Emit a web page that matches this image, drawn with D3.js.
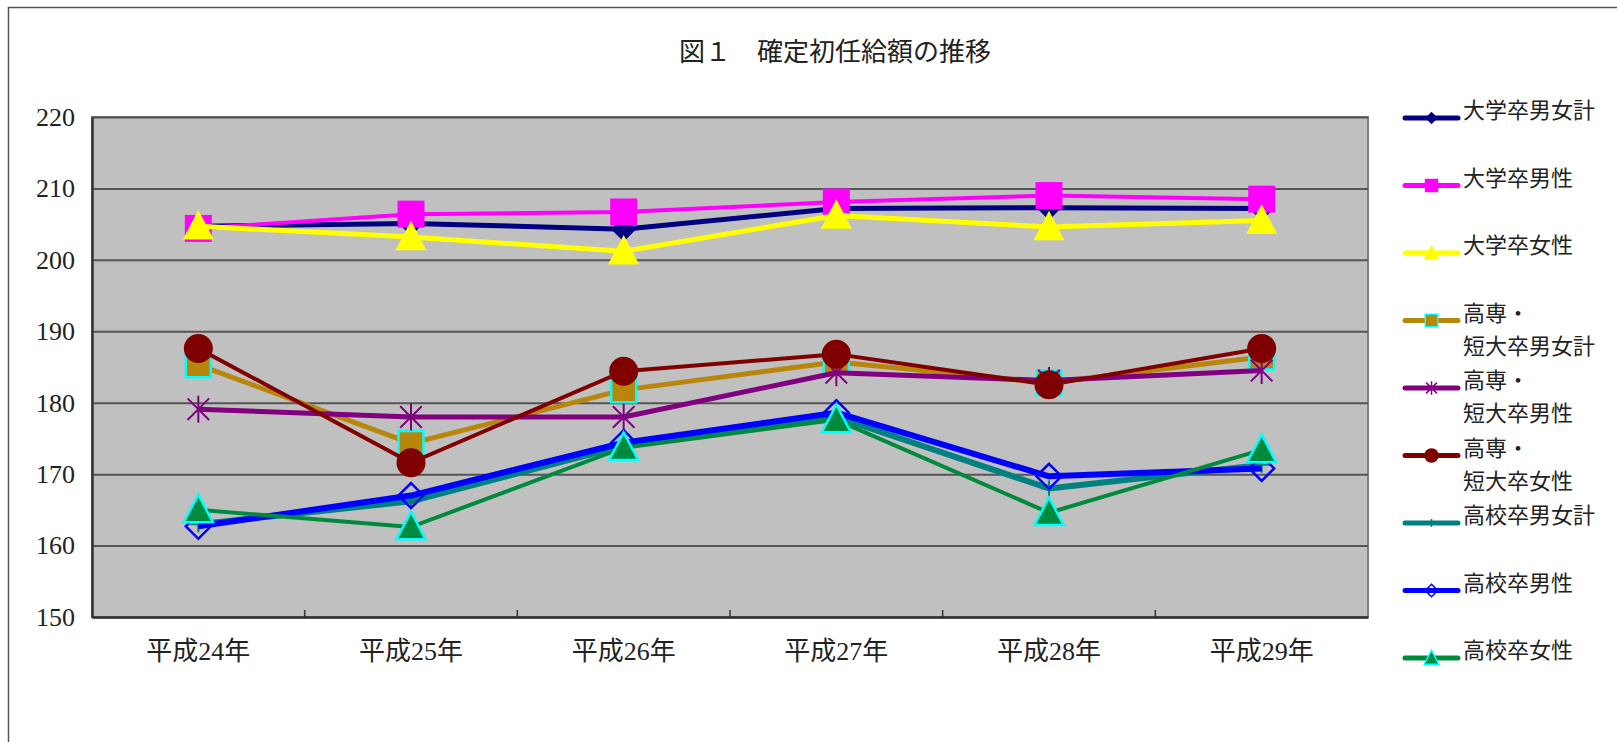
<!DOCTYPE html>
<html>
<head>
<meta charset="utf-8">
<script src="https://cdn.jsdelivr.net/npm/d3@7"></script>
<style>
  html, body { margin: 0; padding: 0; background: #fff; }
  svg { display: block; }
  text { font-family: "Liberation Serif", "Noto Sans CJK JP", serif; fill: #222; }
</style>
</head>
<body>
<div id="chart"></div>
<script>
// chart data
var title = "図１　確定初任給額の推移";
var categories = ["平成24年", "平成25年", "平成26年", "平成27年", "平成28年", "平成29年"];
var yTicks = [150, 160, 170, 180, 190, 200, 210, 220];

var seriesNames = [
    "大学卒男女計", "大学卒男性", "大学卒女性",
    "高専・短大卒男女計", "高専・短大卒男性", "高専・短大卒女性",
    "高校卒男女計", "高校卒男性", "高校卒女性"
];

var univAll    = [204.7, 205.1, 204.3, 207.2, 207.3, 207.2];
var univMale   = [204.4, 206.4, 206.7, 208.1, 209.0, 208.5];
var univFemale = [204.7, 203.2, 201.2, 206.2, 204.6, 205.5];
var juniorAll    = [185.3, 174.3, 181.8, 185.7, 182.8, 186.4];
var juniorMale   = [179.1, 178.0, 178.0, 184.2, 183.1, 184.5];
var juniorFemale = [187.6, 171.6, 184.4, 186.8, 182.5, 187.6];
var highAll    = [163.0, 166.2, 174.0, 178.0, 168.0, 171.3];
var highMale   = [162.7, 167.0, 174.4, 178.6, 169.7, 170.8];
var highFemale = [165.0, 162.6, 173.7, 177.6, 164.6, 173.4];

var seriesValues = [univAll, univMale, univFemale,
    juniorAll, juniorMale, juniorFemale,
    highAll, highMale, highFemale];

// look of each series: line colour / width and marker
var styles = [
    {color: "#000080", lw: 5, mk: "diamond",  size: 25, fill: "#000080", stroke: "none"},
    {color: "#FF00FF", lw: 4, mk: "square",   size: 27, fill: "#FF00FF", stroke: "none"},
    {color: "#FFFF00", lw: 5, mk: "triangle", size: 31, fill: "#FFFF00", stroke: "none"},
    {color: "#B8860B", lw: 5, mk: "square",   size: 25, fill: "#B8860B", stroke: "#00FFFF"},
    {color: "#800080", lw: 5, mk: "star",     size: 27, fill: "none",    stroke: "#800080"},
    {color: "#800000", lw: 4, mk: "circle",   size: 29, fill: "#800000", stroke: "none"},
    {color: "#008080", lw: 6, mk: "plus",     size: 16, fill: "none",    stroke: "#008080"},
    {color: "#0000FF", lw: 6, mk: "diamond",  size: 25, fill: "none",    stroke: "#0000FF"},
    {color: "#008A3E", lw: 4, mk: "triangle", size: 29, fill: "#008A3E", stroke: "#00FFFF"}
];

var W = 1617, H = 742;
var plot = {left: 92, right: 1368, top: 117, bottom: 617};

var svg = d3.select("#chart").append("svg")
    .attr("width", W)
    .attr("height", H);

// outer frame (runs off the right and bottom edge)
svg.append("rect")
    .attr("x", 8.5).attr("y", 7.5)
    .attr("width", W).attr("height", H)
    .attr("fill", "#fff")
    .attr("stroke", "#555").attr("stroke-width", 1.5);

svg.append("text")
    .attr("x", 835).attr("y", 61)
    .attr("text-anchor", "middle")
    .attr("font-size", 26)
    .text(title);

var x = d3.scaleBand()
    .domain(categories)
    .range([plot.left, plot.right]);

var y = d3.scaleLinear()
    .domain([150, 220])
    .range([plot.bottom, plot.top]);

var cx = function(i) { return x(categories[i]) + x.bandwidth() / 2; };

// plot area
svg.append("rect")
    .attr("x", plot.left).attr("y", plot.top)
    .attr("width", plot.right - plot.left)
    .attr("height", plot.bottom - plot.top)
    .attr("fill", "#C0C0C0")
    .attr("stroke", "#808080").attr("stroke-width", 2);

// gridlines
svg.append("g")
    .attr("transform", "translate(" + plot.left + ",0)")
    .call(d3.axisLeft(y).tickValues(yTicks).tickSize(-(plot.right - plot.left)).tickFormat(""))
    .call(function(g) {
        g.select(".domain").remove();
        g.selectAll("line").attr("stroke", "#555").attr("stroke-width", 2);
    });

// y axis labels
svg.append("g")
    .attr("transform", "translate(" + plot.left + ",0)")
    .call(d3.axisLeft(y).tickValues(yTicks).tickSize(0).tickPadding(17))
    .call(function(g) {
        g.select(".domain").attr("stroke", "#333").attr("stroke-width", 2.5);
        g.selectAll("text")
            .attr("font-size", 26)
            .attr("font-family", "Liberation Serif, serif")
            .attr("fill", "#222");
    });

// x axis labels
svg.append("g")
    .attr("transform", "translate(0," + plot.bottom + ")")
    .call(d3.axisBottom(x).tickSize(0).tickPadding(25))
    .call(function(g) {
        g.select(".domain").attr("stroke", "#333").attr("stroke-width", 2.5);
        g.selectAll("text")
            .attr("font-size", 26)
            .attr("fill", "#222");
    });

// small ticks between categories, pointing into the plot
svg.append("g").selectAll("line")
    .data(categories.slice(1))
    .enter().append("line")
    .attr("x1", d => x(d)).attr("x2", d => x(d))
    .attr("y1", plot.bottom).attr("y2", plot.bottom - 7)
    .attr("stroke", "#333").attr("stroke-width", 1.5);

// marker path generator
function markerPath(mk, s) {
    var h = s / 2;
    if (mk == "diamond") return "M0," + (-h) + "L" + h + ",0L0," + h + "L" + (-h) + ",0Z";
    if (mk == "square") return "M" + (-h) + "," + (-h) + "h" + s + "v" + s + "h" + (-s) + "Z";
    if (mk == "triangle") return "M0," + (-h * 1.05) + "L" + h + "," + (h * 0.85) + "L" + (-h) + "," + (h * 0.85) + "Z";
    if (mk == "circle") return d3.symbol(d3.symbolCircle, Math.PI * h * h)();
    if (mk == "star") {
        var d = h * 0.8;
        return "M0," + (-h) + "V" + h +
            "M" + (-d) + "," + (-d) + "L" + d + "," + d +
            "M" + d + "," + (-d) + "L" + (-d) + "," + d;
    }
    if (mk == "plus") return "M0," + (-h) + "V" + h + "M" + (-h) + ",0H" + h;
    return "";
}

var line = d3.line()
    .x((d, i) => cx(i))
    .y(d => y(d));

var seriesG = svg.append("g").selectAll("g")
    .data(seriesValues)
    .enter().append("g");

seriesG.each(function(vals, k) {
    var g = d3.select(this);
    var st = styles[k];
    g.append("path")
        .attr("d", line(vals))
        .attr("fill", "none")
        .attr("stroke", st.color)
        .attr("stroke-width", st.lw)
        .attr("stroke-linejoin", "round");
    g.selectAll("path.mk")
        .data(vals)
        .enter().append("path")
        .attr("class", "mk")
        .attr("transform", (d, i) => "translate(" + cx(i) + "," + y(d) + ")")
        .attr("d", markerPath(st.mk, st.size))
        .attr("fill", st.fill)
        .attr("stroke", st.stroke)
        .attr("stroke-width", st.mk == "star" || st.mk == "plus" ? 2 : 2.5);
});

// legend
var legend = svg.append("g")
    .attr("transform", "translate(1405,118)");

var items = legend.selectAll("g")
    .data(seriesNames)
    .enter().append("g")
    .attr("transform", (d, i) => "translate(0," + (i * 67.5) + ")");

items.each(function(name, k) {
    var g = d3.select(this);
    var st = styles[k];
    g.append("line")
        .attr("x1", 0).attr("x2", 53)
        .attr("y1", 0).attr("y2", 0)
        .attr("stroke", st.color)
        .attr("stroke-width", 5)
        .attr("stroke-linecap", "round");
    g.append("path")
        .attr("transform", "translate(26.5,0)")
        .attr("d", markerPath(st.mk, st.size * 0.5))
        .attr("fill", st.fill)
        .attr("stroke", st.stroke)
        .attr("stroke-width", 1.5);
    var cut = name.indexOf("・");
    var lines = cut >= 0 ? [name.slice(0, cut + 1), name.slice(cut + 1)] : [name];
    g.append("text")
        .attr("x", 58).attr("y", 0)
        .attr("dy", "0.35em")
        .attr("font-size", 22)
        .selectAll("tspan")
        .data(lines)
        .enter().append("tspan")
        .attr("x", 58)
        .attr("dy", (d, i) => i == 0 ? 0 : 33)
        .text(d => d);
});
</script>
</body>
</html>
